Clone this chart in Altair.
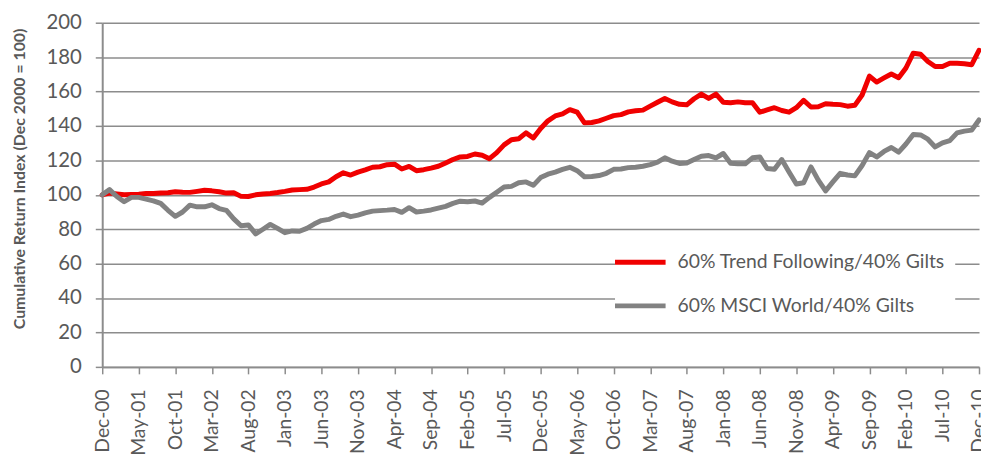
import altair as alt
import pandas as pd

months = list(pd.date_range("2000-12-01", periods=121, freq="MS").strftime("%b-%y"))

tick_labels = ["Dec-00", "May-01", "Oct-01", "Mar-02", "Aug-02", "Jan-03", "Jun-03",
               "Nov-03", "Apr-04", "Sep-04", "Feb-05", "Jul-05", "Dec-05", "May-06",
               "Oct-06", "Mar-07", "Aug-07", "Jan-08", "Jun-08", "Nov-08", "Apr-09",
               "Sep-09", "Feb-10", "Jul-10", "Dec-10"]

y_ticks = [0, 20, 40, 60, 80, 100, 120, 140, 160, 180, 200]

series_names = ["60% Trend Following/40% Gilts", "60% MSCI World/40% Gilts"]
series_colors = ["#F00000", "#828282"]

trend = [100, 101, 100.5, 100, 100.2, 100.4, 100.7, 100.8, 101, 101.2,
         101.8, 101.5, 101.4, 102, 102.6, 102.3, 101.8, 101, 101.2, 99.1,
         99, 100, 100.5, 100.8, 101.3, 102, 102.8, 103, 103.2, 104.5,
         106.3, 107.5, 110.5, 112.8, 111.5, 113.2, 114.5, 116, 116.3, 117.5,
         117.8, 115, 116.5, 114, 114.6, 115.5, 116.6, 118.5, 120.5, 122,
         122.3, 123.7, 123, 121, 124.5, 129, 132, 132.6, 136, 133,
         138.5, 143, 145.8, 147, 149.5, 148, 141.8, 142, 143, 144.5,
         146, 146.6, 148.2, 148.8, 149.2, 151.5, 153.8, 156, 154, 152.6,
         152.3, 155.8, 158.5, 156, 158.5, 153.8, 153.5, 154, 153.5, 153.5,
         148, 149.3, 150.6, 149, 148, 150.6, 154.9, 151, 151.2, 152.9,
         152.6, 152.4, 151.5, 152, 158, 169, 165.5, 167.9, 170.2, 168,
         173.7, 182.3, 181.7, 177.5, 174.6, 174.6, 176.5, 176.4, 176.2, 175.6,
         184]

msci = [100, 103, 99, 96, 98.5, 98.5, 97.5, 96.5, 95, 91,
        87.5, 90, 94, 93, 93, 94.2, 92, 91, 86, 82,
        82.5, 77.3, 80, 82.8, 80.5, 78, 79, 78.8, 80.5, 83,
        85, 85.7, 87.5, 88.8, 87.3, 88.2, 89.5, 90.5, 90.8, 91.1,
        91.5, 89.8, 92.5, 90, 90.5, 91.2, 92.3, 93.3, 95, 96.3,
        96, 96.4, 95.2, 98.5, 101.5, 104.5, 104.9, 107, 107.5, 105.5,
        110, 112, 113.2, 114.8, 116, 114, 110.5, 110.6, 111.2, 112.5,
        114.8, 115, 115.8, 116, 116.6, 117.5, 119, 121.5, 119.5, 118.2,
        118.5, 120.5, 122.4, 122.8, 121.5, 124, 118.3, 118, 118, 121.5,
        122, 115.3, 114.8, 120.5, 113.3, 106.3, 107, 116.2, 108.5, 102.3,
        107.5, 112.5, 111.5, 111, 117, 124.5, 122, 125.2, 127.5, 124.8,
        129.5, 135, 134.8, 132.3, 127.8, 130.2, 131.5, 136, 137, 137.6,
        143.5]

df = pd.DataFrame({
    "month": months + months,
    "series": [series_names[0]] * len(trend) + [series_names[1]] * len(msci),
    "value": trend + msci,
})

FONT = "Lato"
TXT = "#595959"
GRID = "#8c8c8c"

chart = alt.Chart(df).mark_line(strokeWidth=5, strokeJoin="round", strokeCap="round").encode(
    x=alt.X("month:O", sort=months, title=None,
            scale=alt.Scale(type="point", padding=0),
            axis=alt.Axis(values=tick_labels, labelAngle=-90, labelFont=FONT,
                          labelFontSize=19.5, labelColor=TXT, tickColor=GRID,
                          tickSize=7, tickWidth=1.5, labelPadding=15,
                          domainColor=GRID, domainWidth=2, grid=False)),
    y=alt.Y("value:Q", scale=alt.Scale(domain=[0, 200], nice=False),
            axis=alt.Axis(values=y_ticks, title="Cumulative Return Index  (Dec 2000 = 100)",
                          titleFont=FONT, titleFontSize=16, titleFontWeight="bold",
                          titleColor=TXT, titleX=-83, titleY=157, titleAngle=270,
                          titleAlign="center", titleBaseline="middle",
                          labelFont=FONT, labelFontSize=20.5, labelColor=TXT,
                          labelPadding=14, tickSize=7, tickColor=GRID, tickWidth=1.5,
                          domainColor=GRID, domainWidth=2,
                          grid=True, gridColor=GRID, gridWidth=1.5)),
    color=alt.Color("series:N", sort=series_names,
                    scale=alt.Scale(domain=series_names, range=series_colors),
                    legend=alt.Legend(title=None, orient="none", legendX=517, legendY=216,
                                      symbolType="M-2,0H2", symbolSize=650,
                                      symbolStrokeWidth=5, labelFont=FONT,
                                      labelFontSize=19.5, labelColor=TXT, labelLimit=0,
                                      labelOffset=22, rowPadding=18, padding=10,
                                      fillColor="white")),
).properties(
    width=884, height=347,
    autosize=alt.AutoSizeParams(type="none"),
    padding={"left": 95, "top": 13, "right": 2, "bottom": 87},
).configure_view(stroke=None)

chart.save("out.html", embed_options={"renderer": "svg", "actions": False})
